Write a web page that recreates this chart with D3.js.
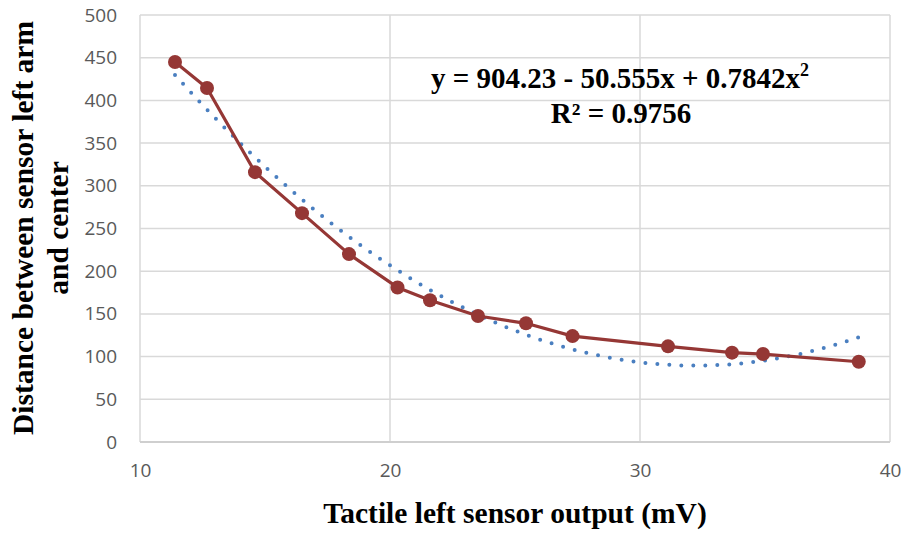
<!DOCTYPE html>
<html>
<head>
<meta charset="utf-8">
<script src="https://cdn.jsdelivr.net/npm/d3@7"></script>
<style>
  html, body { margin: 0; padding: 0; background: #fff; }
  svg { display: block; }
</style>
</head>
<body>
<svg id="chart" width="906" height="534"></svg>
<script>
// ---- data ----
const sensorOutput = [11.4, 12.68, 14.6, 16.48, 18.36, 20.3, 21.6, 23.52, 25.44, 27.3, 31.12, 33.68, 34.92, 38.75];
const distance =     [445, 414.5, 316, 268, 220, 181, 166, 147.5, 139, 124, 112, 104.6, 103, 94];
const trendCoefficients = [904.23, -50.555, 0.7842]; // y = c0 + c1 x + c2 x^2
const xTicks = [10, 20, 30, 40];
const yTicks = [0, 50, 100, 150, 200, 250, 300, 350, 400, 450, 500];
const equationLines = ["y = 904.23 - 50.555x + 0.7842x", "R² = 0.9756"];
const xTitle = "Tactile left sensor output (mV)";
const yTitleLines = ["Distance between sensor left arm", "and center"];

(function () {
// ---- layout ----
const svg = d3.select("#chart");
const pLeft = 140, pRight = 890, pTop = 15, pBottom = 442;
const x = d3.scaleLinear().domain([10, 40]).range([pLeft, pRight]);
const y = d3.scaleLinear().domain([0, 500]).range([pBottom, pTop]);

const gridColor = "#d9d9d9";
const tickFont = "'Open Sans', 'Liberation Sans', sans-serif";
const serif = "'Liberation Serif', 'Times New Roman', serif";

// gridlines (horizontal)
svg.append("g")
  .selectAll("line")
  .data(yTicks.filter(d => d > 0))
  .join("line")
  .attr("x1", pLeft).attr("x2", pRight)
  .attr("y1", d => y(d)).attr("y2", d => y(d))
  .attr("stroke", gridColor).attr("stroke-width", 1.5);

// gridlines (vertical)
svg.append("g")
  .selectAll("line")
  .data(xTicks)
  .join("line")
  .attr("x1", d => x(d)).attr("x2", d => x(d))
  .attr("y1", pTop).attr("y2", pBottom)
  .attr("stroke", gridColor).attr("stroke-width", 1.5);

// x axis baseline
svg.append("line")
  .attr("x1", pLeft).attr("x2", pRight)
  .attr("y1", y(0)).attr("y2", y(0))
  .attr("stroke", "#cfcfcf").attr("stroke-width", 2);

// y tick labels via axis
const yAxis = svg.append("g")
  .attr("transform", `translate(${pLeft},0)`)
  .call(d3.axisLeft(y).tickValues(yTicks).tickSize(0).tickPadding(23).tickFormat(d3.format("d")));
yAxis.select(".domain").remove();
yAxis.selectAll("text")
  .attr("font-family", tickFont).attr("font-size", 19).attr("fill", "#595959");

// x tick labels via axis
const xAxis = svg.append("g")
  .attr("transform", `translate(0,${pBottom})`)
  .call(d3.axisBottom(x).tickValues(xTicks).tickSize(0).tickPadding(22).tickFormat(d3.format("d")));
xAxis.select(".domain").remove();
xAxis.selectAll("text")
  .attr("font-family", tickFont).attr("font-size", 19).attr("fill", "#595959");

// trendline (polynomial, order 2) over data range
const xMin = d3.min(sensorOutput), xMax = d3.max(sensorOutput);
const trendPts = d3.range(0, 201).map(i => {
  const xv = xMin + (xMax - xMin) * i / 200;
  return [xv, trendCoefficients[0] + trendCoefficients[1] * xv + trendCoefficients[2] * xv * xv];
});
svg.append("path")
  .datum(trendPts)
  .attr("d", d3.line().x(d => x(d[0])).y(d => y(d[1])))
  .attr("fill", "none")
  .attr("stroke", "#4a7fc0")
  .attr("stroke-width", 4)
  .attr("stroke-linecap", "round")
  .attr("stroke-dasharray", "0 12");

// data line
const pts = sensorOutput.map((v, i) => [v, distance[i]]);
svg.append("path")
  .datum(pts)
  .attr("d", d3.line().x(d => x(d[0])).y(d => y(d[1])))
  .attr("fill", "none")
  .attr("stroke", "#953735")
  .attr("stroke-width", 3.2)
  .attr("stroke-linejoin", "round");

svg.append("g")
  .selectAll("circle")
  .data(pts)
  .join("circle")
  .attr("cx", d => x(d[0])).attr("cy", d => y(d[1]))
  .attr("r", 7)
  .attr("fill", "#953735");

// equation label
const eq = svg.append("text")
  .attr("x", 620).attr("y", 88)
  .attr("text-anchor", "middle")
  .attr("font-family", serif).attr("font-weight", "bold").attr("font-size", 29)
  .attr("fill", "#000");
eq.append("tspan").text(equationLines[0]);
eq.append("tspan").attr("dy", -12).attr("font-size", 18).text("2");
svg.append("text")
  .attr("x", 621).attr("y", 123)
  .attr("text-anchor", "middle")
  .attr("font-family", serif).attr("font-weight", "bold").attr("font-size", 29)
  .attr("fill", "#000")
  .text(equationLines[1]);

// x title
svg.append("text")
  .attr("x", 515).attr("y", 523)
  .attr("text-anchor", "middle")
  .attr("font-family", serif).attr("font-weight", "bold").attr("font-size", 29.5)
  .attr("fill", "#000")
  .text(xTitle);

// y title
const yt = svg.append("text")
  .attr("transform", "translate(0,228) rotate(-90)")
  .attr("text-anchor", "middle")
  .attr("font-family", serif).attr("font-weight", "bold").attr("font-size", 29.5)
  .attr("fill", "#000");
yt.append("tspan").attr("x", 0).attr("y", 33).text(yTitleLines[0]);
yt.append("tspan").attr("x", 0).attr("y", 68).text(yTitleLines[1]);
})();
</script>
</body>
</html>
